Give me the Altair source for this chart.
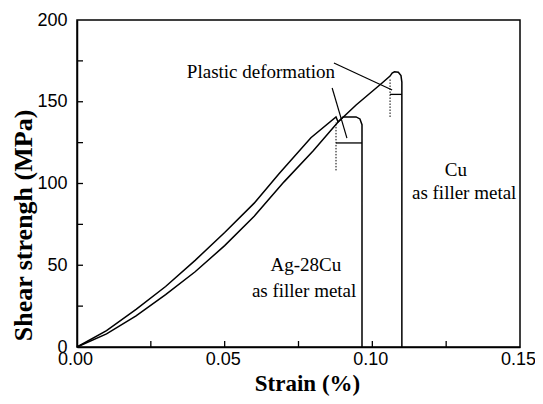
import altair as alt
import pandas as pd

# Ag-28Cu filler metal curve
ag_strain = [0, 0.01, 0.02, 0.03, 0.04, 0.05, 0.06, 0.0684, 0.0792, 0.0877,
             0.0884, 0.0901, 0.0945, 0.0958, 0.0965, 0.0965]
ag_stress = [0, 10, 23, 37, 53, 70, 88, 106, 128, 140.7,
             137.6, 140.7, 140.7, 139.5, 136, 0]

# Cu filler metal curve
cu_strain = [0, 0.01, 0.02, 0.03, 0.04, 0.05, 0.06, 0.0701, 0.08, 0.0884,
             0.0945, 0.1033, 0.106, 0.1067, 0.1075, 0.1088, 0.1097, 0.110, 0.110]
cu_stress = [0, 8, 19, 32, 46, 62, 80, 101, 120, 137.6,
             148, 161.5, 165.7, 167.5, 168.3, 168, 166, 162, 0]

# plastic deformation markers: dotted verticals and horizontal levels
dot_x = [0.0877, 0.1060]
dot_y1 = [108, 140.7]
dot_y2 = [137.6, 164.5]
lvl_y = [124.8, 154.5]
lvl_x1 = [0.0877, 0.1060]
lvl_x2 = [0.0965, 0.110]

# annotation pointer lines
ptr_x1 = [0.0870, 0.0864]
ptr_y1 = [173.7, 158.4]
ptr_x2 = [0.1067, 0.0914]
ptr_y2 = [157.2, 127.8]

# texts
txt = ["Plastic deformation", "Cu", "as filler metal", "Ag-28Cu", "as filler metal"]
txt_x = [0.0623, 0.1283, 0.1311, 0.0775, 0.0769]
txt_y = [168, 108, 94, 50, 34]

x_ticks = [0.025, 0.05, 0.075, 0.10, 0.125]
y_ticks = [25, 50, 75, 100, 125, 150, 175]
x_labels = [0, 0.05, 0.10, 0.15]
y_labels = [0, 50, 100, 150, 200]

W, H = 443, 327

curves = pd.concat([
    pd.DataFrame({"strain": ag_strain, "stress": ag_stress, "s": "Ag-28Cu", "i": range(len(ag_strain))}),
    pd.DataFrame({"strain": cu_strain, "stress": cu_stress, "s": "Cu", "i": range(len(cu_strain))}),
])

xs = alt.Scale(domain=[0, 0.15], nice=False, zero=True)
ys = alt.Scale(domain=[0, 200], nice=False)

xax = alt.Axis(values=x_labels, format=".2f", title="Strain (%)", titleFontSize=23,
               labelPadding=3, labelFlush=False, labelOffset=-2,
               titleX=230, titleY=36, titleBaseline="middle", titleAlign="center")
yax = alt.Axis(values=y_labels, format="d", title="Shear strengh (MPa)", titleFontSize=26,
               labelPadding=10, labelFlush=False,
               titleX=-54, titleY=205, titleBaseline="middle", titleAlign="center", titleAngle=270)

base = alt.Chart(curves)

lines = base.mark_line(color="black", strokeWidth=1.5).encode(
    x=alt.X("strain:Q", scale=xs, axis=xax),
    y=alt.Y("stress:Q", scale=ys, axis=yax),
    detail="s:N",
    order="i:Q",
)

dots = alt.Chart(pd.DataFrame({"x": dot_x, "y1": dot_y1, "y2": dot_y2})).mark_rule(
    color="black", strokeWidth=1, strokeDash=[1.5, 1.5]
).encode(x=alt.X("x:Q", scale=xs), y=alt.Y("y1:Q", scale=ys), y2="y2:Q")

lvls = alt.Chart(pd.DataFrame({"y": lvl_y, "x1": lvl_x1, "x2": lvl_x2})).mark_rule(
    color="black", strokeWidth=1.3
).encode(y=alt.Y("y:Q", scale=ys), x=alt.X("x1:Q", scale=xs), x2="x2:Q")

ptrs = alt.Chart(pd.DataFrame({"x1": ptr_x1, "y1": ptr_y1, "x2": ptr_x2, "y2": ptr_y2})).mark_rule(
    color="black", strokeWidth=1.2
).encode(x=alt.X("x1:Q", scale=xs), y=alt.Y("y1:Q", scale=ys), x2="x2:Q", y2="y2:Q")

texts = alt.Chart(pd.DataFrame({"t": txt, "x": txt_x, "y": txt_y})).mark_text(
    font="Liberation Serif", fontSize=19, color="black", align="center", baseline="middle"
).encode(x=alt.X("x:Q", scale=xs), y=alt.Y("y:Q", scale=ys), text="t:N")

xt = alt.Chart(pd.DataFrame({"v": x_ticks})).mark_rule(color="black", strokeWidth=1.3).encode(
    x=alt.X("v:Q", scale=xs), y=alt.value(H), y2=alt.value(H - 6))
yt = alt.Chart(pd.DataFrame({"v": y_ticks})).mark_rule(color="black", strokeWidth=1.3).encode(
    y=alt.Y("v:Q", scale=ys), x=alt.value(0), x2=alt.value(6))

chart = alt.layer(lines, dots, lvls, ptrs, texts, xt, yt).properties(
    width=W, height=H,
    autosize=alt.AutoSizeParams(type="none"),
    padding={"left": 69, "top": 12, "right": 15, "bottom": 49},
).configure_view(stroke="black", strokeWidth=1.5).configure_axis(
    grid=False, ticks=False, domainColor="black", domainWidth=1.5,
    labelFont="Liberation Sans", labelFontSize=18, labelColor="black",
    titleFont="Liberation Serif", titleFontWeight="bold", titleColor="black",
)

chart.save("out.html", embed_options={"renderer": "svg", "actions": False})
